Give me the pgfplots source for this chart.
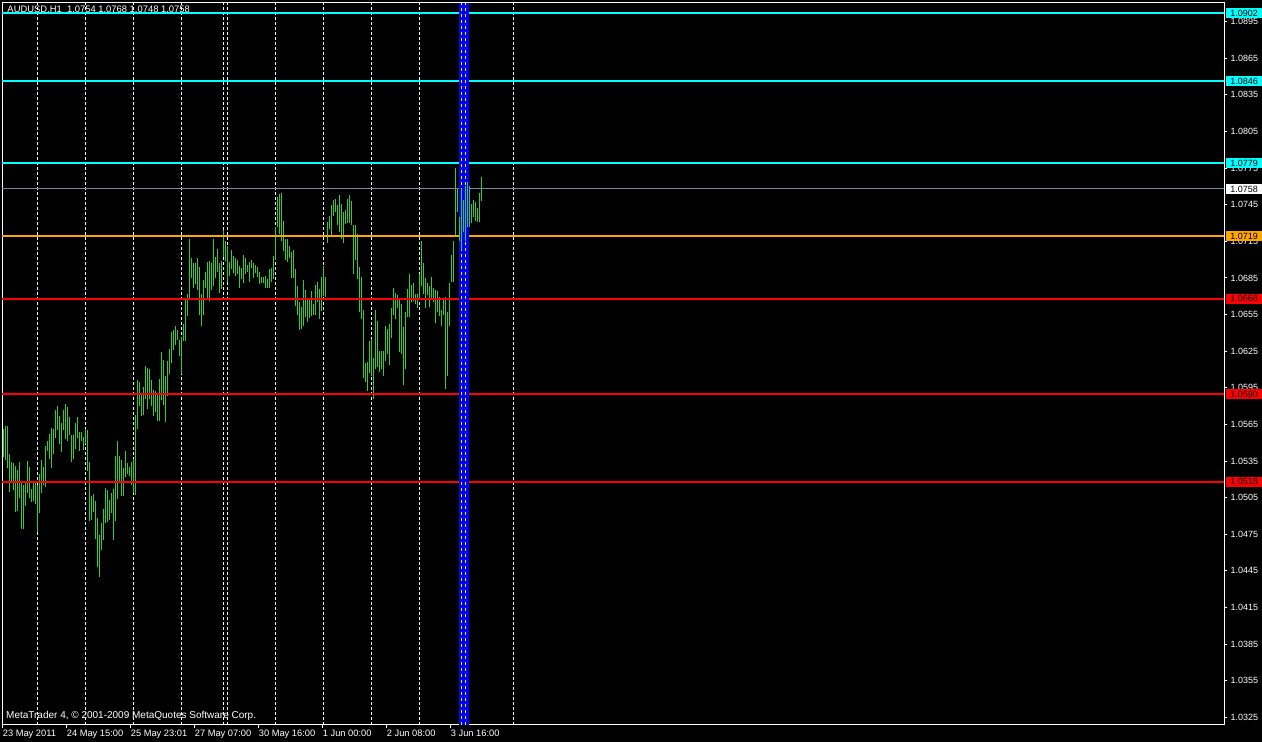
\documentclass[border=0pt]{standalone}
\usepackage{fontspec}
\setmainfont{Liberation Sans}
\usepackage{pgfplots}
\usepackage{pgfplotstable}
\pgfplotsset{compat=1.18}

\definecolor{barg}{RGB}{50,205,50}
\definecolor{lgray}{RGB}{119,136,153}
\definecolor{mtorange}{RGB}{255,165,0}
\definecolor{mtcyan}{RGB}{0,255,255}

% AUDUSD H1 bars: index, low, high
\pgfplotstableread{
i low high
0 1.0538 1.0561
1 1.0536 1.0564
2 1.0529 1.0564
3 1.0510 1.0541
4 1.0517 1.0534
5 1.0511 1.0533
6 1.0493 1.0531
7 1.0494 1.0528
8 1.0505 1.0534
9 1.0479 1.0517
10 1.0479 1.0515
11 1.0498 1.0519
12 1.0509 1.0535
13 1.0505 1.0530
14 1.0501 1.0512
15 1.0502 1.0517
16 1.0500 1.0519
17 1.0477 1.0515
18 1.0492 1.0524
19 1.0509 1.0536
20 1.0515 1.0530
21 1.0514 1.0547
22 1.0543 1.0551
23 1.0537 1.0557
24 1.0529 1.0562
25 1.0541 1.0561
26 1.0554 1.0577
27 1.0560 1.0580
28 1.0549 1.0572
29 1.0542 1.0566
30 1.0560 1.0577
31 1.0553 1.0582
32 1.0551 1.0579
33 1.0556 1.0571
34 1.0534 1.0556
35 1.0537 1.0556
36 1.0545 1.0566
37 1.0554 1.0571
38 1.0543 1.0559
39 1.0551 1.0559
40 1.0544 1.0555
41 1.0549 1.0561
42 1.0527 1.0560
43 1.0486 1.0534
44 1.0487 1.0506
45 1.0493 1.0508
46 1.0471 1.0502
47 1.0448 1.0488
48 1.0440 1.0474
49 1.0462 1.0484
50 1.0470 1.0496
51 1.0484 1.0513
52 1.0485 1.0511
53 1.0487 1.0503
54 1.0492 1.0509
55 1.0470 1.0512
56 1.0486 1.0539
57 1.0504 1.0551
58 1.0519 1.0539
59 1.0506 1.0536
60 1.0506 1.0529
61 1.0522 1.0543
62 1.0524 1.0533
63 1.0523 1.0530
64 1.0515 1.0534
65 1.0509 1.0537
66 1.0507 1.0573
67 1.0561 1.0601
68 1.0580 1.0600
69 1.0572 1.0590
70 1.0573 1.0596
71 1.0586 1.0613
72 1.0578 1.0611
73 1.0586 1.0610
74 1.0580 1.0601
75 1.0572 1.0593
76 1.0575 1.0592
77 1.0568 1.0590
78 1.0568 1.0602
79 1.0585 1.0624
80 1.0581 1.0618
81 1.0567 1.0605
82 1.0588 1.0617
83 1.0606 1.0627
84 1.0615 1.0641
85 1.0626 1.0642
86 1.0630 1.0646
87 1.0634 1.0642
88 1.0621 1.0634
89 1.0606 1.0637
90 1.0633 1.0647
91 1.0633 1.0668
92 1.0654 1.0672
93 1.0668 1.0717
94 1.0685 1.0701
95 1.0677 1.0697
96 1.0680 1.0697
97 1.0675 1.0701
98 1.0655 1.0694
99 1.0646 1.0672
100 1.0655 1.0683
101 1.0677 1.0690
102 1.0667 1.0698
103 1.0666 1.0699
104 1.0675 1.0697
105 1.0678 1.0717
106 1.0685 1.0702
107 1.0690 1.0709
108 1.0673 1.0697
109 1.0676 1.0699
110 1.0702 1.0724
111 1.0699 1.0715
112 1.0682 1.0711
113 1.0687 1.0698
114 1.0692 1.0708
115 1.0689 1.0703
116 1.0687 1.0701
117 1.0688 1.0700
118 1.0677 1.0695
119 1.0684 1.0693
120 1.0681 1.0704
121 1.0688 1.0701
122 1.0690 1.0696
123 1.0682 1.0698
124 1.0693 1.0700
125 1.0685 1.0697
126 1.0689 1.0696
127 1.0686 1.0694
128 1.0680 1.0690
129 1.0681 1.0686
130 1.0681 1.0686
131 1.0677 1.0687
132 1.0677 1.0684
133 1.0677 1.0692
134 1.0682 1.0693
135 1.0684 1.0703
136 1.0700 1.0727
137 1.0727 1.0751
138 1.0721 1.0754
139 1.0715 1.0755
140 1.0707 1.0732
141 1.0700 1.0717
142 1.0698 1.0717
143 1.0701 1.0711
144 1.0685 1.0706
145 1.0685 1.0708
146 1.0662 1.0692
147 1.0655 1.0678
148 1.0642 1.0665
149 1.0643 1.0661
150 1.0646 1.0683
151 1.0653 1.0675
152 1.0649 1.0668
153 1.0652 1.0667
154 1.0654 1.0674
155 1.0655 1.0664
156 1.0655 1.0679
157 1.0665 1.0682
158 1.0651 1.0676
159 1.0658 1.0686
160 1.0670 1.0695
161 1.0669 1.0686
162 1.0714 1.0731
163 1.0725 1.0736
164 1.0720 1.0745
165 1.0736 1.0749
166 1.0739 1.0750
167 1.0728 1.0745
168 1.0723 1.0753
169 1.0717 1.0746
170 1.0714 1.0739
171 1.0729 1.0741
172 1.0730 1.0750
173 1.0730 1.0753
174 1.0728 1.0748
175 1.0688 1.0728
176 1.0700 1.0728
177 1.0684 1.0721
178 1.0657 1.0694
179 1.0651 1.0686
180 1.0603 1.0659
181 1.0600 1.0615
182 1.0592 1.0616
183 1.0607 1.0633
184 1.0605 1.0635
185 1.0586 1.0619
186 1.0610 1.0659
187 1.0612 1.0650
188 1.0608 1.0625
189 1.0610 1.0625
190 1.0605 1.0625
191 1.0617 1.0646
192 1.0623 1.0643
193 1.0614 1.0647
194 1.0636 1.0660
195 1.0655 1.0677
196 1.0651 1.0673
197 1.0660 1.0671
198 1.0624 1.0668
199 1.0623 1.0664
200 1.0597 1.0645
201 1.0610 1.0657
202 1.0653 1.0676
203 1.0653 1.0688
204 1.0665 1.0679
205 1.0666 1.0681
206 1.0664 1.0672
207 1.0660 1.0672
208 1.0668 1.0688
209 1.0678 1.0715
210 1.0672 1.0697
211 1.0660 1.0685
212 1.0671 1.0681
213 1.0661 1.0678
214 1.0668 1.0686
215 1.0665 1.0677
216 1.0648 1.0675
217 1.0657 1.0674
218 1.0654 1.0669
219 1.0646 1.0659
220 1.0655 1.0667
221 1.0594 1.0669
222 1.0605 1.0657
223 1.0646 1.0681
224 1.0682 1.0704
225 1.0682 1.0715
226 1.0719 1.0775
227 1.0739 1.0759
228 1.0715 1.0735
229 1.0708 1.0758
230 1.0723 1.0749
231 1.0715 1.0760
232 1.0727 1.0764
233 1.0727 1.0760
234 1.0730 1.0746
235 1.0735 1.0749
236 1.0732 1.0747
237 1.0731 1.0742
238 1.0731 1.0755
239 1.0748 1.0768
}\bars

\def\ylo{1.031867}
\def\yhi{1.091031}

\begin{document}
\begin{tikzpicture}[x=1pt,y=1pt]
\fill[black] (-2.5,-17) rectangle (1259.5,725);
\path[use as bounding box] (-2.5,-17) rectangle (1259.5,725);
\begin{axis}[
  scale only axis,
  width=1222pt, height=722pt,
  xmin=-0.4, xmax=610.6,
  ymin=\ylo, ymax=\yhi,
  clip=false,
  axis line style={white, line width=1pt},
  tick style={white, line width=1pt},
  tick align=outside,
  major tick length=3pt,
  ytick pos=right,
  xtick pos=bottom,
  yticklabel pos=right,
  ytick={1.0325,1.0355,1.0385,1.0415,1.0445,1.0475,1.0505,1.0535,1.0565,1.0595,1.0625,1.0655,1.0685,1.0715,1.0745,1.0775,1.0805,1.0835,1.0865,1.0895},
  yticklabels={1.0325,1.0355,1.0385,1.0415,1.0445,1.0475,1.0505,1.0535,1.0565,1.0595,1.0625,1.0655,1.0685,1.0715,1.0745,1.0775,1.0805,1.0835,1.0865,1.0895},
  yticklabel style={anchor=west, inner sep=0pt, text=white, font=\fontsize{9}{9}\selectfont},
  yticklabel shift=3pt,
  xtick={-0.3,31.7,63.7,95.7,127.7,159.7,191.7,223.7},
  xticklabels={23 May 2011,24 May 15:00,25 May 23:01,27 May 07:00,30 May 16:00,1 Jun 00:00,2 Jun 08:00,3 Jun 16:00},
  xticklabel style={anchor=north west, inner sep=0pt, text=white, font=\fontsize{9.3}{9.3}\selectfont},
  xticklabel shift=1.5pt,
]
% chart caption (covered by the top line)
\node[anchor=base west, inner sep=0pt, text=white, font=\fontsize{9.4}{9.4}\selectfont, xshift=4.8pt, yshift=-10pt]
  at (rel axis cs:0,1) {AUDUSD,H1\ \ 1.0754 1.0768 1.0748 1.0758};
\node[anchor=base west, inner sep=0pt, text=white, font=\fontsize{10}{10}\selectfont, xshift=3.5pt, yshift=6pt]
  at (rel axis cs:0,0) {MetaTrader 4, © 2001-2009 MetaQuotes Software Corp.};

% day separators
\pgfplotsinvokeforeach{17,41.2,65.2,89.2,110.2,112.2,136.2,160.2,184.2,208.2,255.2}{
  \draw[white, line width=1pt, dash pattern=on 3pt off 2pt] (axis cs:#1,\ylo) -- (axis cs:#1,\yhi);
}

% price bars (low to high)
\addplot[draw=none, mark=none, forget plot,
  error bars/.cd, y dir=plus, y explicit, error mark=none,
  error bar style={draw=barg, line width=1pt, solid}]
  table[x=i, y=low, y error expr=\thisrow{high}-\thisrow{low}] {\bars};

% horizontal levels
\draw[mtcyan, line width=2pt] (axis cs:-0.4,1.0902) -- (axis cs:610.6,1.0902);
\draw[mtcyan, line width=2pt] (axis cs:-0.4,1.0846) -- (axis cs:610.6,1.0846);
\draw[mtcyan, line width=2pt] (axis cs:-0.4,1.0779) -- (axis cs:610.6,1.0779);
\draw[lgray, line width=1pt] (axis cs:-0.4,1.0758) -- (axis cs:610.6,1.0758);
\draw[mtorange, line width=2pt] (axis cs:-0.4,1.0719) -- (axis cs:610.6,1.0719);
\draw[red, line width=2pt] (axis cs:-0.4,1.0668) -- (axis cs:610.6,1.0668);
\draw[red, line width=2pt] (axis cs:-0.4,1.0590) -- (axis cs:610.6,1.0590);
\draw[red, line width=2pt] (axis cs:-0.4,1.0518) -- (axis cs:610.6,1.0518);

% blue band
\fill[blue] (axis cs:227.85,\ylo) rectangle (axis cs:232.7,\yhi);
\pgfplotsinvokeforeach{229.2,231.0}{
  \draw[yellow, line width=1pt, dash pattern=on 3pt off 3pt] (axis cs:#1,\ylo) -- (axis cs:#1,\yhi);
}
\addplot[draw=none, mark=none, forget plot, restrict x to domain=227.5:232.8,
  error bars/.cd, y dir=plus, y explicit, error mark=none,
  error bar style={draw=barg, line width=1pt, solid}]
  table[x=i, y=low, y error expr=\thisrow{high}-\thisrow{low}] {\bars};

\coordinate (h1) at (axis cs:610.6,1.0902);
\coordinate (h2) at (axis cs:610.6,1.0846);
\coordinate (h3) at (axis cs:610.6,1.0779);
\coordinate (h4) at (axis cs:610.6,1.0758);
\coordinate (h5) at (axis cs:610.6,1.0719);
\coordinate (h6) at (axis cs:610.6,1.0668);
\coordinate (h7) at (axis cs:610.6,1.0590);
\coordinate (h8) at (axis cs:610.6,1.0518);
\end{axis}
% price tags on the right scale
\tikzset{tag/.style={anchor=west, xshift=1.5pt, inner xsep=0pt, inner ysep=1.75pt,
  minimum width=36pt, text height=6.5pt, text depth=0pt, text=black,
  font=\fontsize{9}{9}\selectfont}}
\node[tag, fill=mtcyan] at (h1) {1.0902};
\node[tag, fill=mtcyan] at (h2) {1.0846};
\node[tag, fill=mtcyan] at (h3) {1.0779};
\node[tag, fill=white] at (h4) {1.0758};
\node[tag, fill=mtorange] at (h5) {1.0719};
\node[tag, fill=red] at (h6) {1.0668};
\node[tag, fill=red] at (h7) {1.0590};
\node[tag, fill=red] at (h8) {1.0518};
\end{tikzpicture}
\end{document}
